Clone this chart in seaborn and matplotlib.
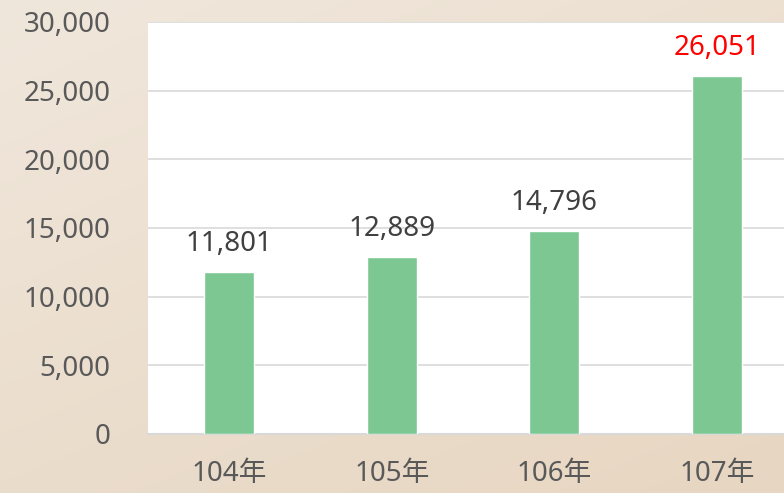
import matplotlib
matplotlib.use("Agg")
from matplotlib import pyplot as plt
import numpy as np
import pandas as pd
import seaborn as sns

# data
years = ["104年", "105年", "106年", "107年"]
values = [11801, 12889, 14796, 26051]
label_colors = ["#404040", "#404040", "#404040", "#FF0000"]
yticks = [0, 5000, 10000, 15000, 20000, 25000, 30000]

df = pd.DataFrame({"year": years, "value": values})

sns.set_theme(style="white")
plt.rcParams["font.family"] = ["Noto Sans", "Noto Sans CJK TC", "DejaVu Sans"]

fig = plt.figure(figsize=(7.84, 4.93), dpi=100)

# beige paper-like background
bg = fig.add_axes([0, 0, 1, 1], zorder=-10)
gx, gy = np.meshgrid(np.linspace(0, 1, 200), np.linspace(0, 1, 200))
grad = 0.6 * gy + 0.4 * gx
c0 = np.array([0xF0, 0xE7, 0xDC]) / 255
c1 = np.array([0xE7, 0xD6, 0xC1]) / 255
img = c0[None, None, :] * (1 - grad[..., None]) + c1[None, None, :] * grad[..., None]
bg.imshow(img, aspect="auto", extent=[0, 1, 0, 1])
bg.axis("off")

ax = fig.add_axes([148 / 784, 1 - 434 / 493, 650 / 784, 412 / 493])
ax.set_facecolor("white")
sns.barplot(data=df, x="year", y="value", color="#7DC892", saturation=1,
            width=0.31, ax=ax, zorder=3)

ax.set_ylim(0, 30000)
ax.set_yticks(yticks)
ax.set_yticklabels([f"{t:,}" for t in yticks])
ax.yaxis.grid(True, color="#D9D9D9", linewidth=1.2, zorder=0)
ax.set_axisbelow(True)
for s in ["top", "right", "left"]:
    ax.spines[s].set_visible(False)
ax.spines["bottom"].set_color("#D9D9D9")
ax.spines["bottom"].set_linewidth(1.5)
ax.tick_params(axis="y", length=0, pad=27, labelsize=20, labelcolor="#595959")
ax.tick_params(axis="x", length=0, pad=19, labelsize=20, labelcolor="#595959")
ax.set_xlabel("")
ax.set_ylabel("")

for i, v in enumerate(values):
    ax.annotate(f"{v:,}", (i, v), xytext=(0, 10), textcoords="offset points",
                ha="center", va="bottom", fontsize=20, color=label_colors[i])

fig.savefig("out.png", dpi=100)
